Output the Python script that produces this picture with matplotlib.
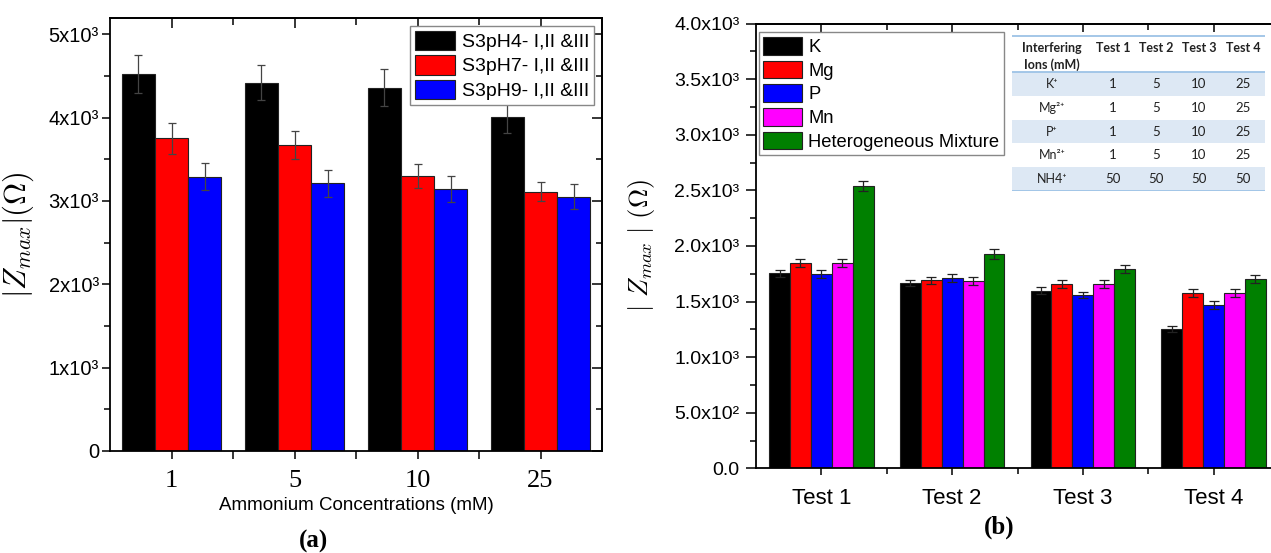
import numpy as np
import matplotlib; matplotlib.use("Agg")
import matplotlib.pyplot as plt
from matplotlib.patches import Rectangle
from matplotlib.ticker import FixedLocator, FixedFormatter

# ---------- dati (a) ----------
conc = ["1", "5", "10", "25"]
s3ph4 = [4520, 4420, 4360, 4010]
s3ph4_err = [230, 210, 220, 200]
s3ph7 = [3750, 3670, 3300, 3110]
s3ph7_err = [185, 170, 140, 115]
s3ph9 = [3290, 3210, 3140, 3050]
s3ph9_err = [160, 160, 155, 150]
labels_a = ["S3pH4- I,II &III", "S3pH7- I,II &III", "S3pH9- I,II &III"]
yticks_a = [0, 1000, 2000, 3000, 4000, 5000]
yticklab_a = ["0", "1x10³", "2x10³", "3x10³", "4x10³", "5x10³"]

# ---------- dati (b) ----------
tests = ["Test 1", "Test 2", "Test 3", "Test 4"]
K  = [1754, 1667, 1598, 1255]
Mg = [1844, 1691, 1658, 1574]
P  = [1748, 1712, 1559, 1471]
Mn = [1844, 1685, 1658, 1574]
HM = [2541, 1928, 1793, 1700]
K_err  = [30, 30, 30, 25]
Mg_err = [36, 33, 39, 36]
P_err  = [36, 39, 30, 34]
Mn_err = [36, 39, 39, 36]
HM_err = [48, 42, 33, 36]
labels_b = ["K", "Mg", "P", "Mn", "Heterogeneous Mixture"]
yticks_b = [0, 500, 1000, 1500, 2000, 2500, 3000, 3500, 4000]
yticklab_b = ["0.0", "5.0x10²", "1.0x10³", "1.5x10³", "2.0x10³",
              "2.5x10³", "3.0x10³", "3.5x10³", "4.0x10³"]

# tabella inset
tab_head = ["Interfering\nIons (mM)", "Test 1", "Test 2", "Test 3", "Test 4"]
tab_ions = ["K⁺", "Mg²⁺", "P⁺", "Mn²⁺", "NH4⁺"]
tab_vals = [[1, 5, 10, 25], [1, 5, 10, 25], [1, 5, 10, 25],
            [1, 5, 10, 25], [50, 50, 50, 50]]

SANS = ["Liberation Sans", "DejaVu Sans"]
SERIF = ["Liberation Serif", "DejaVu Serif"]
plt.rcParams.update({"font.family": SANS, "mathtext.fontset": "cm",
                     "axes.linewidth": 1.3})

W, H = 1271, 553
fig = plt.figure(figsize=(W/100, H/100), dpi=100)

def px_axes(l, r, t, b):
    return [l/W, 1-b/H, (r-l)/W, (b-t)/H]

def mirror(ax, yt, ymin, xt, xmin, ylen, xlen):
    sy = ax.secondary_yaxis("right")
    sy.set_yticks(yt); sy.yaxis.set_minor_locator(FixedLocator(ymin))
    sy.tick_params(which="major", direction="in", length=ylen, width=1.1, labelright=False)
    sy.tick_params(which="minor", direction="in", length=ylen*0.6, width=1.1)
    sx = ax.secondary_xaxis("top")
    sx.set_xticks(xt); sx.xaxis.set_minor_locator(FixedLocator(xmin))
    sx.tick_params(which="major", direction="in", length=xlen, width=1.1, labeltop=False)
    sx.tick_params(which="minor", direction="in", length=xlen*0.7, width=1.1)

# ================= (a) =================
ax = fig.add_axes(px_axes(110, 602, 17.6, 451))
x = np.arange(1, len(conc)+1)
bw = 0.27
cols_a = ["black", "#ff0000", "#0000ff"]
for i, (v, e) in enumerate([(s3ph4, s3ph4_err), (s3ph7, s3ph7_err), (s3ph9, s3ph9_err)]):
    ax.bar(x + (i-1)*bw, v, bw, color=cols_a[i], edgecolor="#222222", lw=0.8,
           label=labels_a[i], zorder=2)
    ax.errorbar(x + (i-1)*bw, v, yerr=e, fmt="none", ecolor="#444444",
                elinewidth=0.9, capsize=3, capthick=0.9, zorder=3)
ax.set_xlim(0.5, 4.5)
ax.set_ylim(0, 5200)
ax.set_xticks(x)
ax.set_xticklabels(conc, fontsize=19, family=SERIF)
ax.xaxis.set_minor_locator(FixedLocator([1.5, 2.5, 3.5]))
ax.yaxis.set_major_locator(FixedLocator(yticks_a))
ax.yaxis.set_major_formatter(FixedFormatter(yticklab_a))
ax.yaxis.set_minor_locator(FixedLocator([500, 1500, 2500, 3500, 4500]))
ax.tick_params(axis="y", which="major", direction="out", length=6, width=1.1,
               labelsize=14.5, pad=2)
ax.tick_params(axis="y", which="minor", direction="out", length=4, width=1.1)
ax.tick_params(axis="x", which="both", direction="out", length=6, width=1.1, pad=8)
mirror(ax, yticks_a, [500, 1500, 2500, 3500, 4500], list(x), [1.5, 2.5, 3.5], 7, 7)
ax.set_ylabel(r"$|Z_{max}|(\Omega)$", fontsize=22)
ax.yaxis.set_label_coords(-0.15, 0.5)
ax.set_xlabel("Ammonium Concentrations (mM)", fontsize=13.5)
ax.xaxis.set_label_coords(0.5, -0.105)
ax.legend(loc="upper right", bbox_to_anchor=(0.984, 0.981), borderaxespad=0,
          fontsize=14, frameon=True, fancybox=False, edgecolor="#888888",
          handlelength=2.05, handleheight=1.15, labelspacing=0.22,
          handletextpad=0.35, borderpad=0.25, framealpha=1)
fig.text(314/W, 1-541/H, "(a)", ha="center", va="center", fontsize=18,
         fontweight="bold", family=SERIF)

# ================= (b) =================
ax2 = fig.add_axes(px_axes(756, 1279, 23.6, 468.4))
bw2 = 0.16
cols_b = ["black", "#ff0000", "#0000ff", "#ff00ff", "#008000"]
series_b = [(K, K_err), (Mg, Mg_err), (P, P_err), (Mn, Mn_err), (HM, HM_err)]
for i, (v, e) in enumerate(series_b):
    ax2.bar(x + (i-2)*bw2, v, bw2, color=cols_b[i], edgecolor="#222222", lw=0.8,
            label=labels_b[i], zorder=2)
    ax2.errorbar(x + (i-2)*bw2, v, yerr=e, fmt="none", ecolor="#222222",
                 elinewidth=0.9, capsize=3.5, capthick=0.9, zorder=3)
ax2.set_xlim(0.5, 4.5)
ax2.set_ylim(0, 4000)
ax2.set_xticks(x)
ax2.set_xticklabels(tests, fontsize=16)
ax2.xaxis.set_minor_locator(FixedLocator([1.5, 2.5, 3.5]))
ax2.yaxis.set_major_locator(FixedLocator(yticks_b))
ax2.yaxis.set_major_formatter(FixedFormatter(yticklab_b))
ax2.yaxis.set_minor_locator(FixedLocator(np.arange(250, 4000, 500)))
ax2.tick_params(axis="y", which="major", direction="out", length=7, width=1.1,
                labelsize=14, pad=5)
ax2.tick_params(axis="y", which="minor", direction="out", length=4, width=1.1)
ax2.tick_params(axis="x", which="major", direction="out", length=5, width=1.1, pad=9)
ax2.tick_params(axis="x", which="minor", direction="out", length=4, width=1.1)
mirror(ax2, yticks_b, list(np.arange(250, 4000, 500)), list(x), [1.5, 2.5, 3.5], 5, 6)
ax2.set_ylabel(r"$|\ Z_{max}\ |\ (\Omega)$", fontsize=19)
ax2.yaxis.set_label_coords(-0.19, 0.5)
ax2.legend(loc="upper left", bbox_to_anchor=(0.005, 0.98), borderaxespad=0,
           fontsize=13.2, frameon=True, fancybox=False, edgecolor="#888888",
           handlelength=2.1, handleheight=1.1, labelspacing=0.25,
           handletextpad=0.35, borderpad=0.25, framealpha=1)
fig.text(999/W, 1-527/H, "(b)", ha="center", va="center", fontsize=18,
         fontweight="bold", family=SERIF)

# ---------- tabella inset ----------
TL, TR, TT, TB = 1012, 1265, 35, 191
axt = fig.add_axes(px_axes(TL, TR, TT, TB))
axt.set_xlim(0, TR-TL); axt.set_ylim(TB-TT, 0); axt.axis("off")
TFONT = ["Lato", "DejaVu Sans"]
head_h = 37
row_h = (TB-TT-head_h)/len(tab_ions)
col_x = [40, 101, 144, 187, 231]
for r in range(len(tab_ions)):
    if r % 2 == 0:
        axt.add_patch(Rectangle((0, head_h + r*row_h), TR-TL, row_h,
                                color="#dde8f4", lw=0))
for yy in [0.5, head_h, TB-TT-0.5]:
    axt.axhline(yy, color="#9dc3e6", lw=1.3)
for c, h in enumerate(tab_head):
    axt.text(col_x[c], 7, h, ha="center", va="top", fontsize=9,
             fontweight="bold", family=TFONT, color="#222222", linespacing=1.45)
for r, ion in enumerate(tab_ions):
    yc = head_h + (r+0.5)*row_h
    axt.text(col_x[0], yc, ion, ha="center", va="center", fontsize=9,
             family=TFONT, color="#222222")
    for c, v in enumerate(tab_vals[r]):
        axt.text(col_x[c+1], yc, str(v), ha="center", va="center", fontsize=9.5,
                 family=TFONT, color="#222222")

fig.savefig("out.png", dpi=100)
